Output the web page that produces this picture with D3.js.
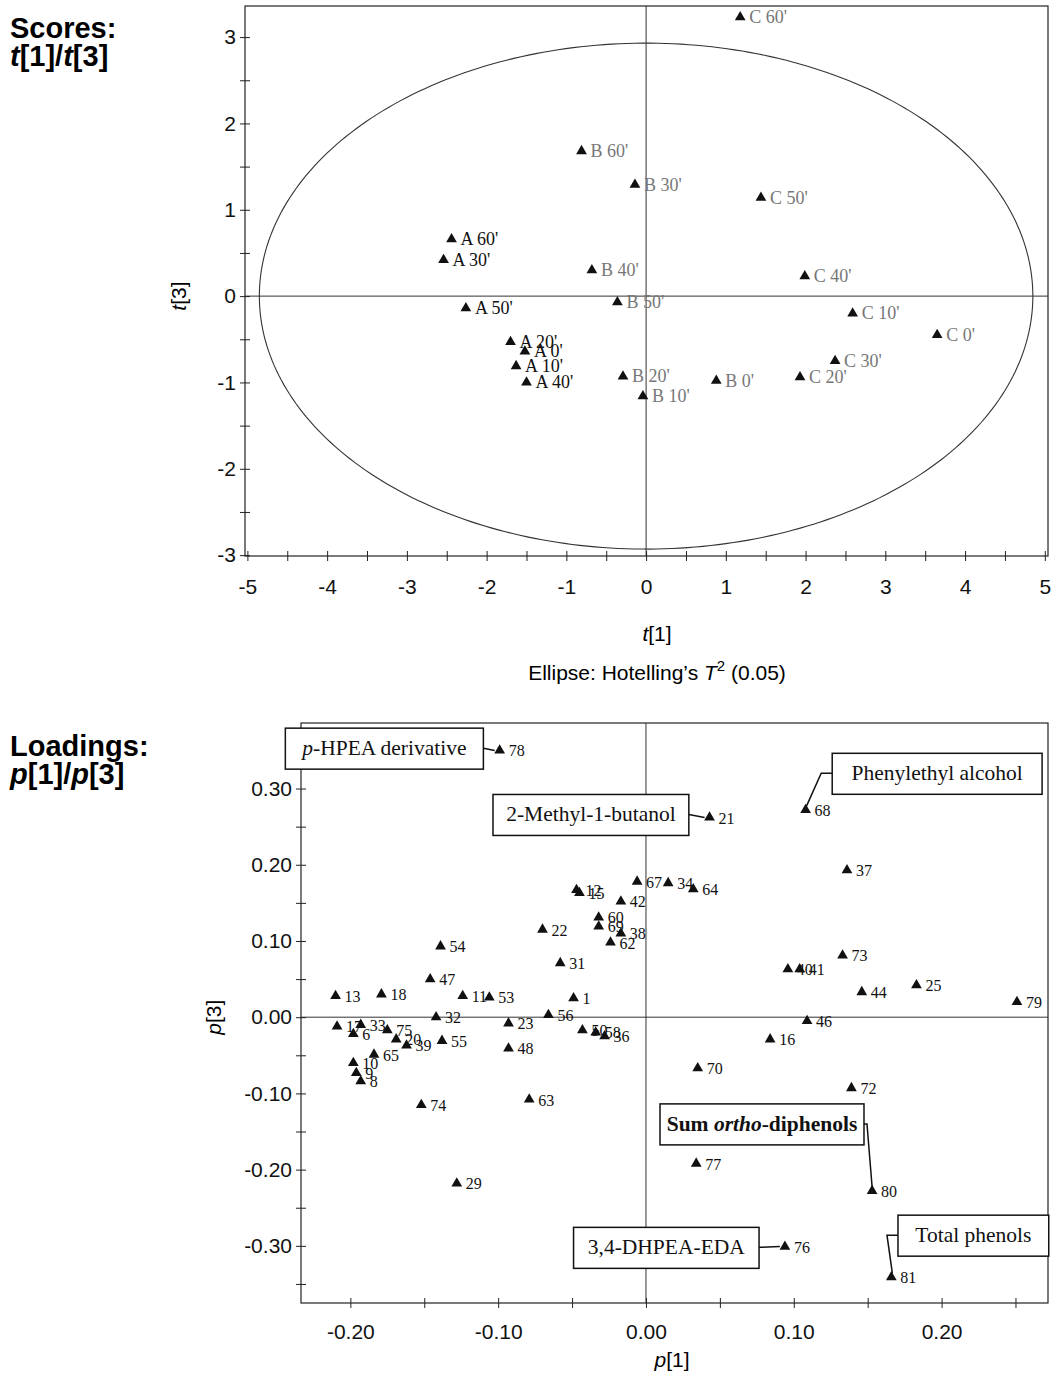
<!DOCTYPE html>
<html>
<head>
<meta charset="utf-8">
<script src="https://cdn.jsdelivr.net/npm/d3@7"></script>
<style>
body { margin: 0; background: #fff; }
</style>
</head>
<body>
<div id="viz"></div>
<script>
// ---- scores t[1]/t[3] ----
const scoreLabels = ["C 60'", "B 60'", "B 30'", "C 50'", "A 60'", "A 30'", "B 40'", "C 40'",
                     "A 50'", "B 50'", "C 10'", "C 0'", "A 20'", "A 0'", "A 10'", "A 40'",
                     "B 20'", "B 10'", "B 0'", "C 30'", "C 20'"];
const scoreT1 = [1.18, -0.81, -0.14, 1.44, -2.44, -2.54, -0.68, 1.99,
                 -2.26, -0.36, 2.59, 3.65, -1.70, -1.52, -1.63, -1.50,
                 -0.29, -0.04, 0.88, 2.37, 1.93];
const scoreT3 = [3.23, 1.68, 1.29, 1.14, 0.66, 0.42, 0.30, 0.23,
                 -0.14, -0.07, -0.20, -0.45, -0.53, -0.64, -0.81, -1.00,
                 -0.93, -1.16, -0.98, -0.75, -0.94];
const scoreXTicks = [-5, -4, -3, -2, -1, 0, 1, 2, 3, 4, 5];
const scoreYTicks = [-3, -2, -1, 0, 1, 2, 3];
const ellipseRadii = [4.85, 2.93];   // Hotelling's T2 (0.05)

// ---- loadings p[1]/p[3] ----
const loadingIds = ["78", "21", "68", "37", "67", "34", "64", "12", "15", "42", "60", "69", "38", "62",
                    "22", "31", "54", "47", "13", "18", "11", "53", "1", "56", "32", "23", "17", "33",
                    "6", "75", "20", "39", "55", "48", "65", "10", "9", "8", "74", "63", "29", "70",
                    "72", "77", "80", "76", "81", "73", "40", "41", "44", "25", "79", "46", "16",
                    "50", "58", "36"];
const loadingP1 = [-0.099, 0.043, 0.108, 0.136, -0.006, 0.015, 0.032, -0.047, -0.045, -0.017, -0.032, -0.032, -0.017, -0.024,
                   -0.070, -0.058, -0.139, -0.146, -0.210, -0.179, -0.124, -0.106, -0.049, -0.066, -0.142, -0.093, -0.209, -0.193,
                   -0.198, -0.175, -0.169, -0.162, -0.138, -0.093, -0.184, -0.198, -0.196, -0.193, -0.152, -0.079, -0.128, 0.035,
                   0.139, 0.034, 0.153, 0.094, 0.166, 0.133, 0.096, 0.104, 0.146, 0.183, 0.251, 0.109, 0.084,
                   -0.043, -0.034, -0.028];
const loadingP3 = [0.350, 0.262, 0.272, 0.193, 0.178, 0.176, 0.168, 0.167, 0.163, 0.152, 0.131, 0.119, 0.110, 0.098,
                   0.115, 0.071, 0.093, 0.050, 0.028, 0.030, 0.028, 0.026, 0.025, 0.003, 0.000, -0.008, -0.012, -0.010,
                   -0.022, -0.017, -0.029, -0.037, -0.031, -0.041, -0.049, -0.060, -0.073, -0.084, -0.115, -0.108, -0.218, -0.067,
                   -0.093, -0.192, -0.228, -0.301, -0.341, 0.081, 0.063, 0.063, 0.033, 0.042, 0.020, -0.005, -0.029,
                   -0.017, -0.020, -0.025];
const loadXTicks = [-0.20, -0.10, 0.00, 0.10, 0.20];
const loadYTicks = [-0.30, -0.20, -0.10, 0.00, 0.10, 0.20, 0.30];

// named variables in boxes
const calloutIds = ["78", "21", "68", "80", "76", "81"];
const calloutTexts = [
    [{t: "p", i: true}, {t: "-HPEA derivative"}],
    [{t: "2-Methyl-1-butanol"}],
    [{t: "Phenylethyl alcohol"}],
    [{t: "Sum ", b: true}, {t: "ortho", b: true, i: true}, {t: "-diphenols", b: true}],
    [{t: "3,4-DHPEA-EDA"}],
    [{t: "Total phenols"}]
];
// box placement in data units: [left p1, right p1, centre p3], connector kind
const calloutBoxes = [[-0.244, -0.110, 0.353], [-0.1035, 0.029, 0.266], [0.126, 0.268, 0.320],
                      [0.0095, 0.1475, -0.140], [-0.049, 0.0765, -0.302], [0.1705, 0.2725, -0.286]];
const calloutLinks = ["right", "right", "leftElbow", "rightElbow", "right", "leftElbow"];

const fmt = d3.formatLocale({decimal: ".", thousands: ",", grouping: [3], currency: ["", ""], minus: "-"});
const fmtInt = fmt.format("d");
const fmt2 = fmt.format(".2f");
const near = (a, b) => Math.abs(a - b) < 1e-9;

const svg = d3.select("#viz").append("svg")
    .attr("width", 1054)
    .attr("height", 1374)
    .style("font-family", "'Liberation Sans', Arial, sans-serif");

const tri = d3.symbol().type(d3.symbolTriangle).size(50);

function drawAxes(x, y, minorX, minorY, majorX, majorY, fx, fy, labelY) {
    const [x0, x1] = x.range();
    const [y0, y1] = y.range();   // y0 bottom, y1 top

    svg.append("rect")
       .attr("x", x0).attr("y", y1)
       .attr("width", x1 - x0).attr("height", y0 - y1)
       .attr("fill", "none").attr("stroke", "#222").attr("stroke-width", 1.2);

    // zero lines
    svg.append("line")
       .attr("x1", x0).attr("x2", x1).attr("y1", y(0)).attr("y2", y(0))
       .attr("stroke", "#333").attr("stroke-width", 1);
    svg.append("line")
       .attr("x1", x(0)).attr("x2", x(0)).attr("y1", y1).attr("y2", y0)
       .attr("stroke", "#333").attr("stroke-width", 1);

    const ax = svg.append("g")
        .attr("transform", `translate(0,${y0})`)
        .call(d3.axisBottom(x).tickValues(minorX).tickSize(5)
              .tickFormat(d => majorX.some(m => near(m, d)) ? fx(d) : ""));
    ax.select(".domain").remove();
    ax.selectAll(".tick line").attr("y1", -5).attr("stroke", "#222");
    ax.selectAll(".tick text").attr("y", labelY).attr("font-size", 21)
      .attr("font-family", "'Liberation Sans', Arial, sans-serif").attr("fill", "#111");

    const ay = svg.append("g")
        .attr("transform", `translate(${x0},0)`)
        .call(d3.axisLeft(y).tickValues(minorY).tickSize(5)
              .tickFormat(d => majorY.some(m => near(m, d)) ? fy(d) : ""));
    ay.select(".domain").remove();
    ay.selectAll(".tick line").attr("x1", 5).attr("stroke", "#222");
    ay.selectAll(".tick text").attr("x", -9).attr("font-size", 21)
      .attr("font-family", "'Liberation Sans', Arial, sans-serif").attr("fill", "#111");
}

function richText(sel, parts) {
    parts.forEach(p => {
        sel.append("tspan").text(p.t)
           .attr("font-style", p.i ? "italic" : null)
           .attr("font-weight", p.b ? "bold" : null);
    });
}

// ================= Scores =================
const xS = d3.scaleLinear().domain([-5.03, 5.04]).range([245, 1048]);
const yS = d3.scaleLinear().domain([-3.01, 3.36]).range([556, 6]);

drawAxes(xS, yS, d3.range(-5, 5.001, 0.5), d3.range(-3, 3.001, 0.5),
         scoreXTicks, scoreYTicks, fmtInt, fmtInt, 23);

const ellipse = d3.line()
    .x(a => xS(ellipseRadii[0] * Math.cos(a)))
    .y(a => yS(ellipseRadii[1] * Math.sin(a)));
svg.append("path")
   .attr("d", ellipse(d3.range(0, 2 * Math.PI + 0.02, 0.02)))
   .attr("fill", "none").attr("stroke", "#333").attr("stroke-width", 1.1);

const scorePts = svg.append("g").selectAll("g")
    .data(scoreLabels)
    .join("g")
    .attr("transform", (d, i) => `translate(${xS(scoreT1[i])},${yS(scoreT3[i])})`);
scorePts.append("path").attr("d", tri).attr("fill", "#111");
scorePts.append("text")
    .text(d => d)
    .attr("x", 9).attr("y", 6)
    .attr("font-family", "'Liberation Serif', 'Times New Roman', serif")
    .attr("font-size", 18)
    .attr("fill", d => d[0] === "A" ? "#111" : "#777");

svg.append("text").attr("transform", `translate(186,${yS(0)}) rotate(-90)`)
   .attr("text-anchor", "middle").attr("font-size", 21)
   .call(richText, [{t: "t", i: true}, {t: "[3]"}]);
svg.append("text").attr("x", 657).attr("y", 641)
   .attr("text-anchor", "middle").attr("font-size", 21)
   .call(richText, [{t: "t", i: true}, {t: "[1]"}]);
const ell = svg.append("text").attr("x", 657).attr("y", 680)
   .attr("text-anchor", "middle").attr("font-size", 21);
ell.append("tspan").text("Ellipse: Hotelling\u2019s ");
ell.append("tspan").text("T").attr("font-style", "italic");
ell.append("tspan").text("2").attr("font-size", 15).attr("dy", -9);
ell.append("tspan").text(" (0.05)").attr("dy", 9);

svg.append("text").attr("x", 10).attr("y", 38).attr("font-size", 29).attr("font-weight", "bold")
   .text("Scores:");
svg.append("text").attr("x", 10).attr("y", 66).attr("font-size", 29).attr("font-weight", "bold")
   .call(richText, [{t: "t", i: true}, {t: "[1]/"}, {t: "t", i: true}, {t: "[3]"}]);

// ================= Loadings =================
const xL = d3.scaleLinear().domain([-0.2334, 0.272]).range([301, 1048]);
const yL = d3.scaleLinear().domain([-0.375, 0.386]).range([1303, 723]);

drawAxes(xL, yL, d3.range(-0.20, 0.2501, 0.05), d3.range(-0.35, 0.3501, 0.05),
         loadXTicks, loadYTicks, fmt2, fmt2, 21);

// callout boxes and connectors
calloutIds.forEach((id, k) => {
    const i = loadingIds.indexOf(id);
    const px = xL(loadingP1[i]), py = yL(loadingP3[i]);
    const [bl, br, bc] = calloutBoxes[k];
    const left = xL(bl), right = xL(br), cy = yL(bc);
    let pts;
    if (calloutLinks[k] === "right") pts = [[right, cy], [px - 5, py]];
    else if (calloutLinks[k] === "leftElbow") pts = [[left, cy], [left - 11, cy], [px + 1, py - 4]];
    else pts = [[right, cy], [right + 3, cy], [px, py - 4]];
    svg.append("path").attr("d", d3.line()(pts))
       .attr("fill", "none").attr("stroke", "#111").attr("stroke-width", 1.5);
    svg.append("rect")
       .attr("x", left).attr("y", cy - 20).attr("width", right - left).attr("height", 41)
       .attr("fill", "#fff").attr("stroke", "#111").attr("stroke-width", 1.5);
    svg.append("text")
       .attr("x", (left + right) / 2).attr("y", cy + 7)
       .attr("text-anchor", "middle")
       .attr("font-family", "'Liberation Serif', 'Times New Roman', serif")
       .attr("font-size", 21.5).attr("fill", "#111")
       .call(richText, calloutTexts[k]);
});

const loadPts = svg.append("g").selectAll("g")
    .data(loadingIds)
    .join("g")
    .attr("transform", (d, i) => `translate(${xL(loadingP1[i])},${yL(loadingP3[i])})`);
loadPts.append("path").attr("d", tri).attr("fill", "#111");
loadPts.append("text")
    .text(d => d)
    .attr("x", 9).attr("y", 6)
    .attr("font-family", "'Liberation Serif', 'Times New Roman', serif")
    .attr("font-size", 16)
    .attr("fill", "#111");

svg.append("text").attr("transform", `translate(221,${yL(0)}) rotate(-90)`)
   .attr("text-anchor", "middle").attr("font-size", 21)
   .call(richText, [{t: "p", i: true}, {t: "[3]"}]);
svg.append("text").attr("x", 672).attr("y", 1367)
   .attr("text-anchor", "middle").attr("font-size", 21)
   .call(richText, [{t: "p", i: true}, {t: "[1]"}]);

svg.append("text").attr("x", 10).attr("y", 756).attr("font-size", 29).attr("font-weight", "bold")
   .text("Loadings:");
svg.append("text").attr("x", 10).attr("y", 784).attr("font-size", 29).attr("font-weight", "bold")
   .call(richText, [{t: "p", i: true}, {t: "[1]/"}, {t: "p", i: true}, {t: "[3]"}]);
</script>
</body>
</html>
